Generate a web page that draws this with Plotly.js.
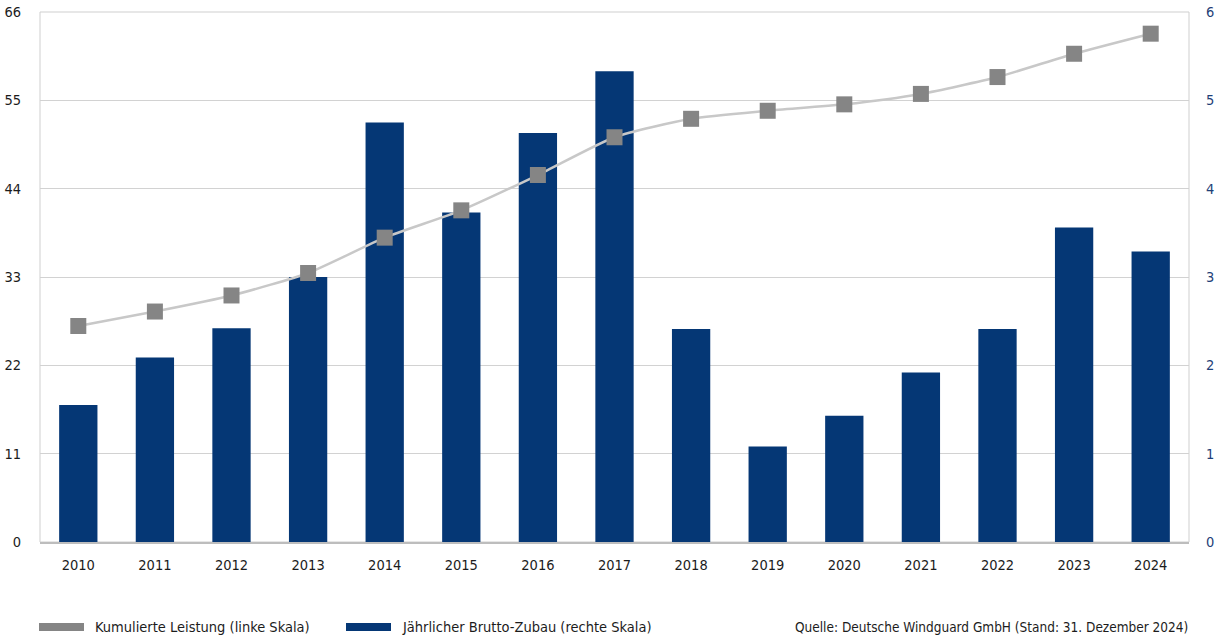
<!DOCTYPE html>
<html>
<head>
<meta charset="utf-8">
<script src="https://cdn.plot.ly/plotly-3.0.1.min.js"></script>
<style>
  html, body { margin: 0; padding: 0; background: #fff; }
  #chart { width: 1222px; height: 644px; }
</style>
</head>
<body>
<div id="chart"></div>
<script>
// Windenergie an Land: kumulierte Leistung (GW) und jährlicher Brutto-Zubau (GW)
const years = ['2010', '2011', '2012', '2013', '2014', '2015', '2016', '2017',
               '2018', '2019', '2020', '2021', '2022', '2023', '2024'];
const cumulativeGW = [26.9, 28.7, 30.7, 33.5, 37.9, 41.3, 45.7, 50.4,
                      52.7, 53.7, 54.5, 55.8, 57.9, 60.8, 63.3];
const annualAdditionGW = [1.55, 2.09, 2.42, 3.00, 4.75, 3.73, 4.63, 5.33,
                          2.41, 1.08, 1.43, 1.92, 2.41, 3.56, 3.29];
const leftTicks = [0, 11, 22, 33, 44, 55, 66];
const rightTicks = [0, 1, 2, 3, 4, 5, 6];
const seriesNames = ['Kumulierte Leistung (linke Skala)', 'Jährlicher Brutto-Zubau (rechte Skala)'];
const sourceNote = 'Quelle: Deutsche Windguard GmbH (Stand: 31. Dezember 2024)';

const FONT = '"DejaVu Sans Condensed", "DejaVu Sans", sans-serif';
const FS = 14.5;
const BAR_COLOR = '#053775';
const MARKER_COLOR = '#858585';
const LINE_COLOR = '#c8c8c8';
const TEXT_COLOR = '#1c1c1c';
const W = 1222, H = 644;
const M = { l: 40, r: 33, t: 12, b: 102 };
const plotW = W - M.l - M.r, plotH = H - M.t - M.b;
const px = x => (x - M.l) / plotW;
const py = y => (H - M.b - y) / plotH;

const bars = {
  type: 'bar',
  name: seriesNames[1],
  x: years,
  y: annualAdditionGW,
  yaxis: 'y',
  marker: { color: BAR_COLOR },
  hoverinfo: 'x+y'
};

const line = {
  type: 'scatter',
  mode: 'lines+markers',
  name: seriesNames[0],
  x: years,
  y: cumulativeGW,
  yaxis: 'y2',
  line: { color: LINE_COLOR, width: 2.5, shape: 'spline', smoothing: 0.6 },
  marker: { symbol: 'square', size: 16, color: MARKER_COLOR },
  hoverinfo: 'x+y'
};

// hand-drawn legend below the plot
const legendY = 627;
const shapes = [
  { type: 'rect', xref: 'paper', yref: 'paper', x0: 0, x1: 1, y0: 0, y1: 1,
    line: { color: '#cfcfcf', width: 1 }, fillcolor: 'rgba(0,0,0,0)', layer: 'below' },
  { type: 'rect', xref: 'paper', yref: 'paper', x0: px(39), x1: px(84),
    y0: py(legendY - 4), y1: py(legendY + 4), line: { width: 0 }, fillcolor: MARKER_COLOR },
  { type: 'rect', xref: 'paper', yref: 'paper', x0: px(346), x1: px(391),
    y0: py(legendY - 4), y1: py(legendY + 4), line: { width: 0 }, fillcolor: BAR_COLOR }
];
const annotations = [
  { xref: 'paper', yref: 'paper', x: px(93), y: py(legendY), xanchor: 'left', yanchor: 'middle',
    text: seriesNames[0], showarrow: false, font: { family: FONT, size: FS, color: TEXT_COLOR } },
  { xref: 'paper', yref: 'paper', x: px(400), y: py(legendY), xanchor: 'left', yanchor: 'middle',
    text: seriesNames[1], showarrow: false, font: { family: FONT, size: FS, color: TEXT_COLOR } },
  { xref: 'paper', yref: 'paper', x: px(1190), y: py(legendY), xanchor: 'right', yanchor: 'middle',
    text: sourceNote, showarrow: false, font: { family: FONT, size: 13.5, color: TEXT_COLOR } }
];

const layout = {
  width: W, height: H,
  margin: M,
  paper_bgcolor: '#fff',
  plot_bgcolor: '#fff',
  showlegend: false,
  bargap: 0.5,
  font: { family: FONT, size: FS, color: TEXT_COLOR },
  xaxis: {
    type: 'category',
    range: [-0.5, years.length - 0.5],
    showgrid: false,
    showline: true, linecolor: '#bdbdbd', linewidth: 2,
    ticks: '', ticklabelstandoff: 9,
    tickfont: { family: FONT, size: FS, color: TEXT_COLOR },
    fixedrange: true
  },
  yaxis: {
    side: 'right',
    range: [0, 6],
    tickvals: rightTicks,
    showgrid: true, gridcolor: '#d2d2d2', gridwidth: 1,
    zeroline: false, showline: false,
    ticks: '', ticklabelstandoff: 16,
    tickfont: { family: FONT, size: FS, color: '#1f3f78' },
    fixedrange: true
  },
  yaxis2: {
    side: 'left',
    overlaying: 'y',
    range: [0, 66],
    tickvals: leftTicks,
    showgrid: false, zeroline: false, showline: false,
    ticks: '', ticklabelstandoff: 18,
    tickfont: { family: FONT, size: FS, color: TEXT_COLOR },
    fixedrange: true
  },
  shapes: shapes,
  annotations: annotations
};

Plotly.newPlot('chart', [bars, line], layout, { displayModeBar: false, staticPlot: true });
</script>
</body>
</html>
